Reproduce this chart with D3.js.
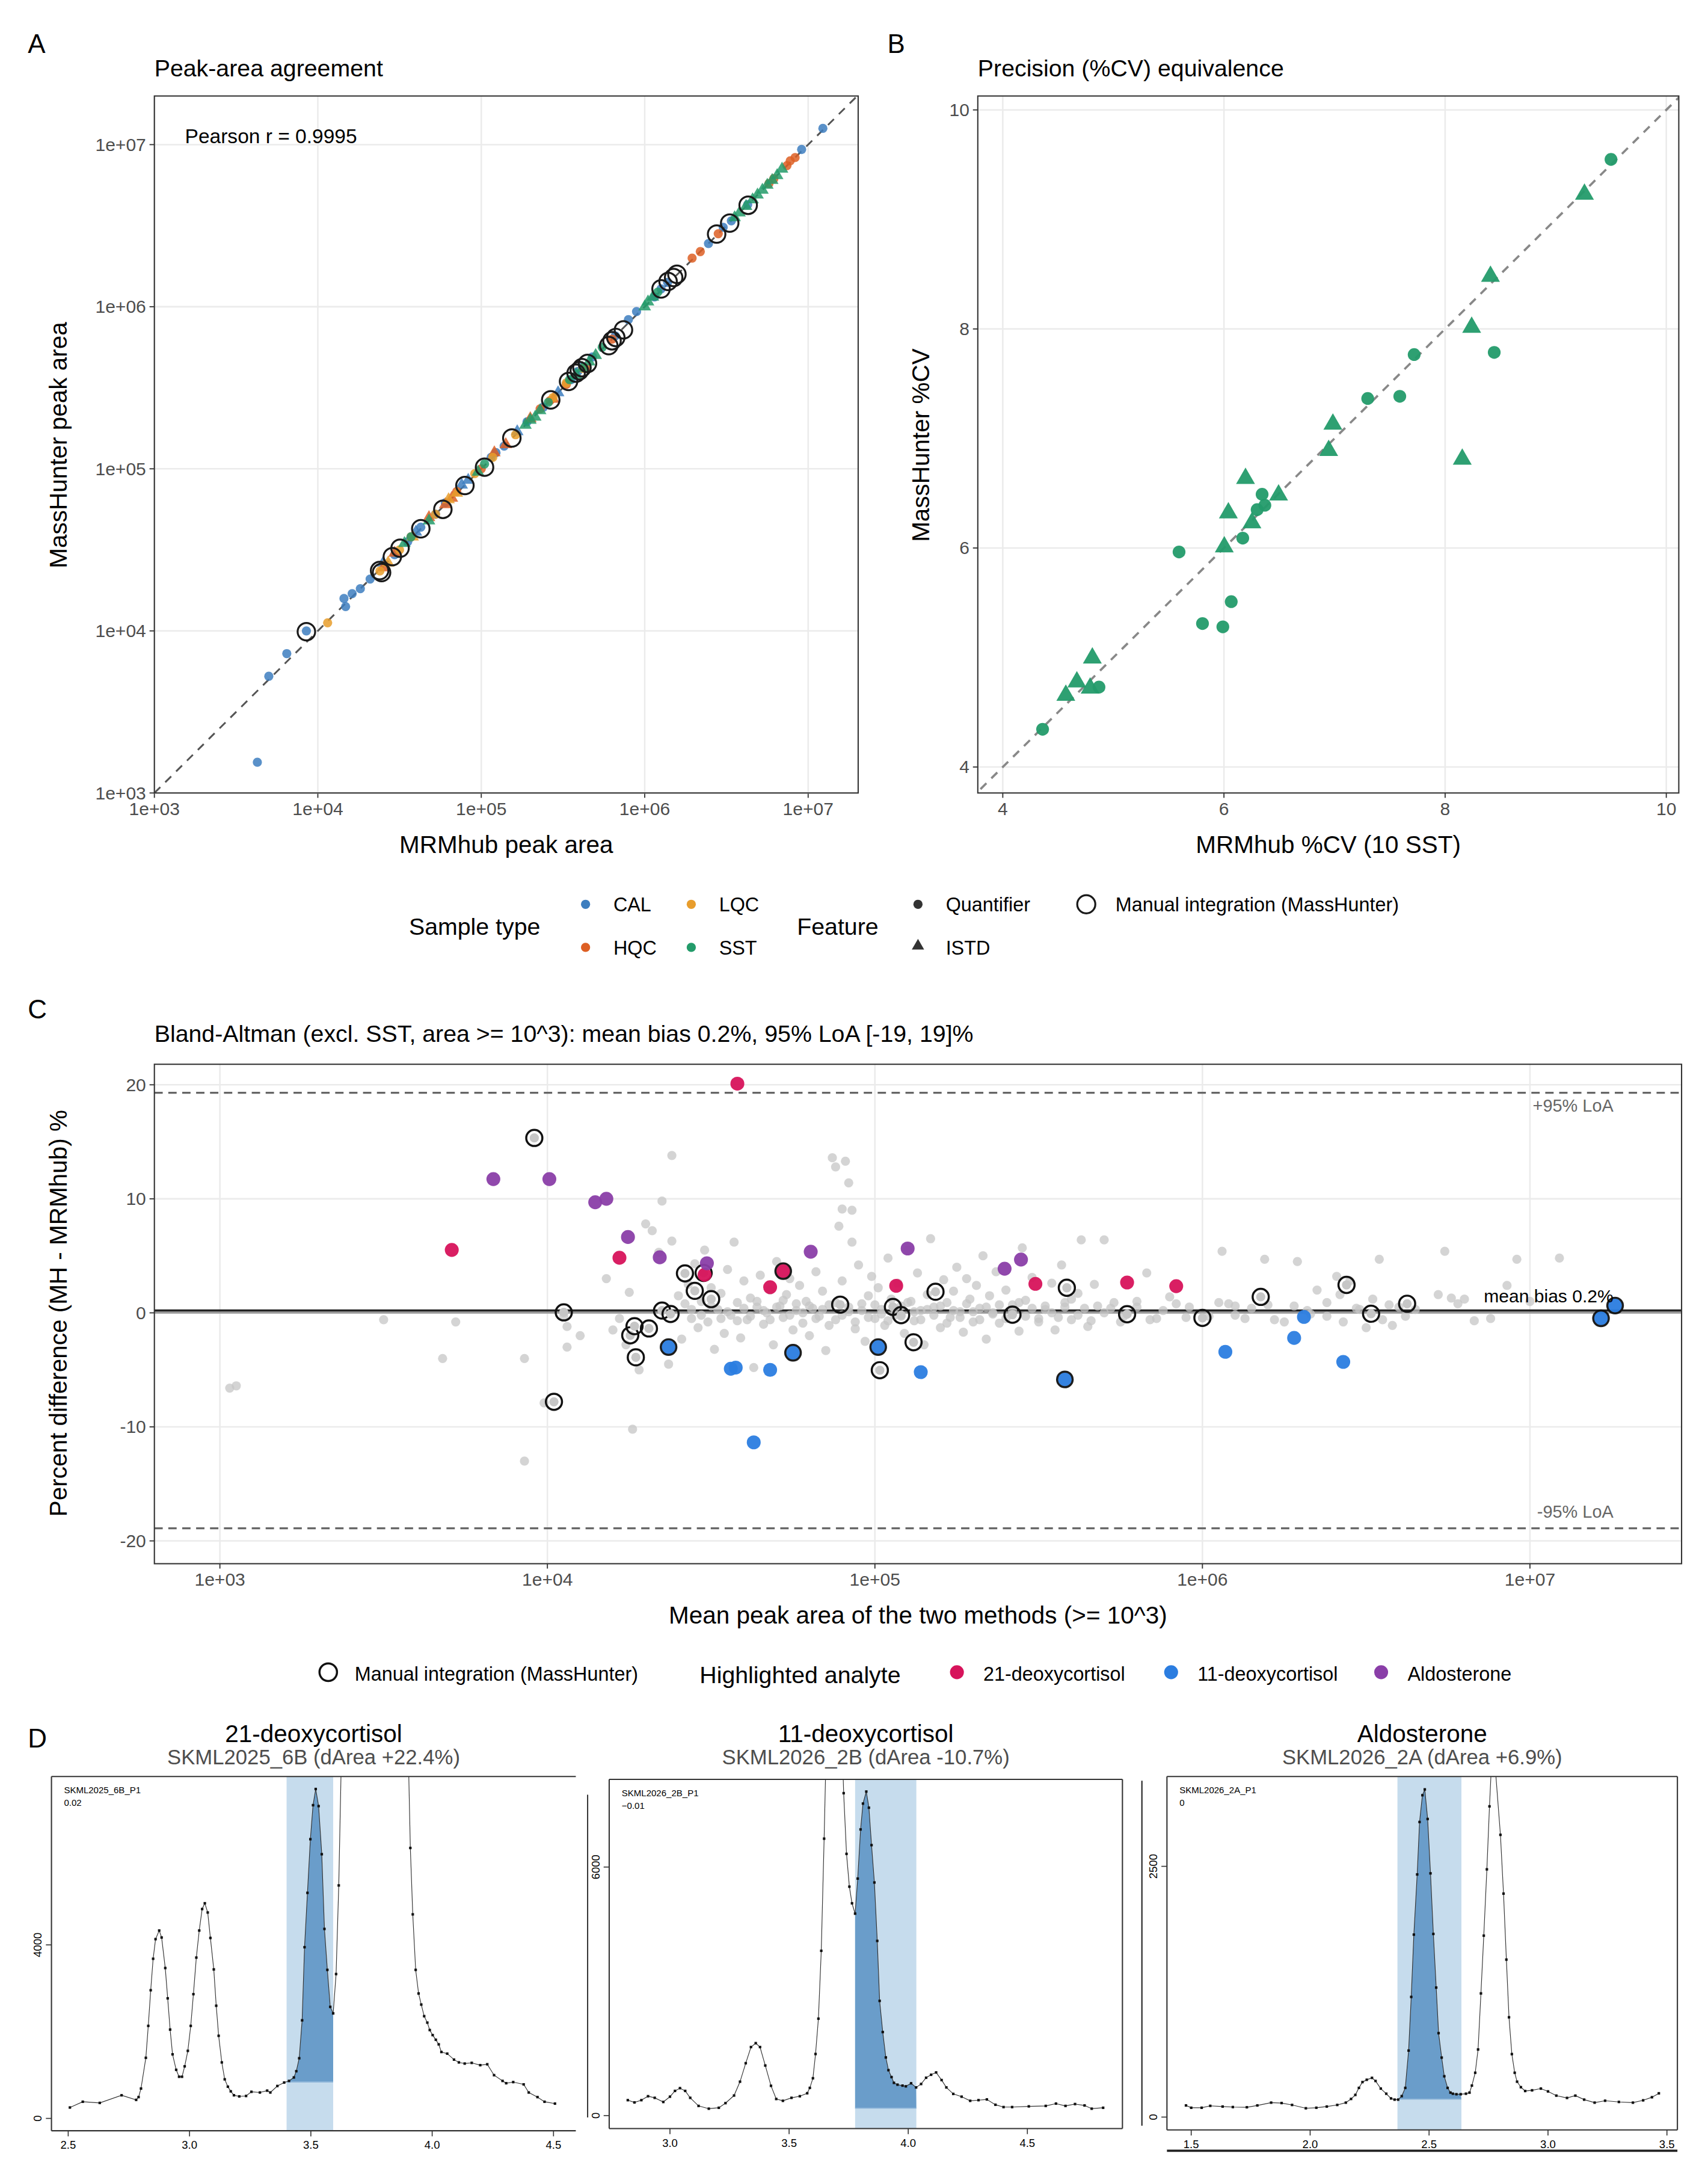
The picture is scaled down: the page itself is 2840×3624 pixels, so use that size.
<!DOCTYPE html>
<html>
<head>
<meta charset="utf-8">
<script src="https://cdn.jsdelivr.net/npm/d3@7"></script>
<style>
  body { margin: 0; background: #fff; }
  svg { font-family: "Liberation Sans", Arial, sans-serif; }
</style>
</head>
<body>
<div id="chart"></div>
<script>
// ---- data (log10 areas for A and C) ----
// [log10 MRMhub, log10 MassHunter, feature]
var calPts = [[3.63,3.19,"q"],[3.70,3.72,"q"],[3.81,3.86,"q"],[3.93,4.0,"q"],[4.16,4.2,"q"],[4.17,4.15,"q"],[4.21,4.23,"q"],[4.26,4.26,"q"],[4.32,4.32,"q"],[4.40,4.42,"i"],[4.47,4.47,"q"],[4.55,4.55,"q"],[4.63,4.64,"q"],[4.72,4.72,"q"],[4.78,4.79,"q"],[4.88,4.9,"i"],[4.92,4.93,"i"],[5.06,5.07,"q"],[5.09,5.1,"q"],[5.22,5.23,"i"],[5.28,5.29,"q"],[5.38,5.38,"q"],[5.55,5.55,"q"],[5.59,5.6,"q"],[5.68,5.69,"q"],[5.82,5.82,"q"],[5.90,5.92,"q"],[5.95,5.97,"q"],[6.10,6.11,"q"],[6.14,6.15,"q"],[6.39,6.39,"q"],[6.48,6.49,"q"],[6.53,6.53,"q"],[6.63,6.63,"q"],[6.96,6.97,"q"],[7.09,7.10,"q"],[4.60,4.61,"i"],[5.14,5.14,"q"],[5.47,5.47,"i"],[5.62,5.63,"q"],[6.06,6.06,"q"]];
var hqcPts = [[4.40,4.39,"i"],[4.47,4.48,"i"],[4.57,4.58,"q"],[4.68,4.7,"i"],[4.82,4.82,"i"],[4.85,4.86,"q"],[5.0,5.0,"q"],[5.08,5.1,"i"],[5.15,5.15,"i"],[5.30,5.31,"i"],[5.42,5.42,"q"],[5.44,5.43,"i"],[5.52,5.52,"q"],[5.64,5.62,"q"],[5.80,5.8,"q"],[6.29,6.30,"q"],[6.34,6.34,"q"],[6.45,6.45,"q"],[6.76,6.76,"q"],[6.79,6.79,"q"],[6.87,6.87,"q"],[6.89,6.9,"q"],[6.92,6.92,"q"],[4.78,4.78,"i"],[5.36,5.37,"q"]];
var lqcPts = [[4.06,4.05,"q"],[4.38,4.37,"q"],[4.43,4.42,"i"],[4.50,4.50,"q"],[4.58,4.58,"i"],[4.72,4.72,"q"],[4.85,4.85,"i"],[4.96,4.97,"q"],[5.07,5.07,"q"],[5.21,5.21,"q"],[5.44,5.44,"q"],[5.52,5.53,"q"],[5.62,5.62,"q"],[4.80,4.81,"i"]];
var sstPts = [[4.53,4.54,"i"],[4.57,4.58,"q"],[4.68,4.68,"i"],[4.98,4.98,"i"],[5.02,5.03,"q"],[5.27,5.27,"i"],[5.30,5.30,"i"],[5.33,5.32,"i"],[5.36,5.36,"i"],[5.41,5.41,"q"],[5.54,5.55,"q"],[5.58,5.58,"i"],[5.62,5.62,"i"],[5.66,5.66,"i"],[5.70,5.70,"i"],[5.74,5.75,"q"],[6.0,6.0,"i"],[6.02,6.03,"i"],[6.05,6.06,"i"],[6.08,6.09,"q"],[6.55,6.55,"i"],[6.58,6.58,"i"],[6.62,6.62,"i"],[6.66,6.66,"i"],[6.69,6.69,"i"],[6.72,6.72,"i"],[6.75,6.75,"i"],[6.78,6.78,"i"],[6.81,6.81,"i"],[6.84,6.85,"i"]];
var manualA = [[3.93,3.995],[4.378,4.372],[4.39,4.36],[4.456,4.458],[4.503,4.51],[4.63,4.63],[4.765,4.75],[4.9,4.897],[5.02,5.01],[5.187,5.19],[5.425,5.425],[5.534,5.539],[5.58,5.59],[5.60,5.605],[5.616,5.624],[5.65,5.65],[5.78,5.76],[5.80,5.79],[5.823,5.81],[5.87,5.857],[6.10,6.11],[6.143,6.156],[6.177,6.18],[6.197,6.2],[6.44,6.448],[6.52,6.516],[6.633,6.626]];
var typeColors = {CAL:"#3d7ebf", HQC:"#dd5f24", LQC:"#e89d2c", SST:"#239b6a"};
var pearsonLabel = "Pearson r = 0.9995";

// panel B: [MRMhub %CV, MassHunter %CV]
var cvQuant = [[9.50,9.548],[8.444,7.786],[7.72,7.766],[7.59,7.385],[7.30,7.365],[6.345,6.49],[6.37,6.39],[6.30,6.35],[6.17,6.09],[5.594,5.964],[6.066,5.51],[5.806,5.31],[5.99,5.28],[4.87,4.73],[4.36,4.345]];
var cvIstd = [[9.26,9.23],[8.41,8.48],[8.24,8.015],[8.155,6.81],[6.985,7.13],[6.947,6.89],[6.195,6.635],[6.494,6.483],[6.04,6.32],[6.253,6.23],[6.003,6.01],[4.81,4.995],[4.67,4.777],[4.79,4.72],[4.57,4.655]];

// panel C: [log10 mean area, percent difference]
var baGray = [[3.03,-6.6],[3.05,-6.4],[3.5,-0.6],[3.68,-4.0],[3.72,-0.8],[3.93,-4.0],[3.93,-13.0],[3.99,-7.9],[4.05,-0.3],[4.06,-3.0],[4.06,-1.2],[4.1,-2.0],[4.18,3.0],[4.2,-1.5],[4.22,-0.5],[4.24,-2.8],[4.25,1.8],[4.26,-10.2],[4.28,-5.0],[4.3,7.8],[4.32,7.2],[4.34,5.3],[4.35,9.8],[4.37,-4.5],[4.38,13.8],[4.38,6.3],[4.4,1.5],[4.41,-2.3],[4.42,0.8],[4.43,2.5],[4.44,-0.5],[4.45,4.3],[4.46,-1.3],[4.47,1.0],[4.48,5.5],[4.49,-0.8],[4.5,2.2],[4.51,-3.2],[4.52,0.3],[4.53,1.7],[4.54,-1.8],[4.55,3.8],[4.56,-0.2],[4.57,6.2],[4.58,0.9],[4.59,-2.2],[4.6,2.8],[4.61,-0.6],[4.62,1.3],[4.63,-4.8],[4.64,0.5],[4.65,3.3],[4.66,-1.0],[4.67,0.0],[4.68,2.0],[4.69,-2.8],[4.7,4.5],[4.71,0.6],[4.72,-0.4],[4.73,1.6],[4.74,3.0],[4.75,-1.5],[4.76,0.2],[4.77,2.4],[4.78,-0.9],[4.79,1.0],[4.8,-2.0],[4.81,0.4],[4.82,3.6],[4.83,-0.3],[4.84,1.9],[4.85,-3.3],[4.86,0.7],[4.87,13.6],[4.88,12.8],[4.88,-0.6],[4.89,7.6],[4.9,9.1],[4.9,2.8],[4.91,13.3],[4.92,11.4],[4.92,0.1],[4.93,6.2],[4.93,9.0],[4.94,-1.4],[4.95,4.2],[4.96,0.8],[4.97,-2.5],[4.98,1.5],[4.99,3.2],[5.0,-0.5],[5.01,2.2],[5.02,0.3],[5.03,-1.1],[5.04,4.8],[5.05,1.2],[5.06,-0.2],[5.07,2.6],[5.08,0.6],[5.09,-1.8],[5.1,5.5],[5.11,1.0],[5.12,-0.7],[5.13,3.5],[5.14,0.2],[5.15,-2.8],[5.16,1.6],[5.17,6.5],[5.18,0.5],[5.2,-1.3],[5.21,2.9],[5.22,0.9],[5.23,-0.4],[5.24,1.9],[5.25,4.0],[5.26,0.1],[5.27,-1.7],[5.28,3.0],[5.29,1.2],[5.3,-0.8],[5.31,2.4],[5.32,0.4],[5.33,5.0],[5.34,-2.3],[5.35,1.5],[5.36,0.0],[5.37,3.6],[5.38,-0.9],[5.4,2.0],[5.42,0.7],[5.44,-1.6],[5.45,5.7],[5.46,1.1],[5.48,3.1],[5.5,-0.5],[5.52,0.3],[5.54,2.6],[5.55,-1.5],[5.57,4.2],[5.58,0.9],[5.6,-0.6],[5.62,1.7],[5.63,6.4],[5.65,-1.2],[5.67,2.5],[5.7,6.4],[5.72,0.4],[5.75,-0.8],[5.8,1.0],[5.83,3.5],[5.86,-0.5],[5.9,1.4],[5.96,0.5],[6.02,-0.3],[6.06,5.4],[6.08,0.8],[6.1,0.6],[6.13,-0.5],[6.19,4.7],[6.2,0.7],[6.25,-0.8],[6.29,4.5],[6.32,0.2],[6.35,2.0],[6.38,-0.3],[6.41,3.2],[6.42,1.6],[6.45,2.8],[6.47,0.4],[6.5,-1.3],[6.54,4.7],[6.55,-0.6],[6.58,-1.1],[6.6,0.5],[6.65,0.3],[6.72,1.6],[6.74,5.4],[6.76,1.3],[6.78,0.8],[6.8,1.2],[6.83,-0.7],[6.88,-0.5],[6.93,2.4],[6.96,4.7],[7.0,1.0],[7.09,4.8]];
var baGrayCore = [[4.44,0.3],[4.47,-0.2],[4.5,0.6],[4.53,-0.5],[4.55,0.1],[4.58,-0.7],[4.6,0.4],[4.62,-0.3],[4.64,1.0],[4.66,0.2],[4.68,-0.6],[4.7,0.5],[4.72,1.1],[4.74,-0.2],[4.76,0.8],[4.78,0.0],[4.8,0.6],[4.82,-0.5],[4.84,0.3],[4.86,-1.1],[4.88,0.9],[4.9,-0.2],[4.92,0.5],[4.94,-0.8],[4.96,0.2],[4.98,-0.4],[5.0,0.7],[5.02,-0.1],[5.04,-0.7],[5.06,0.4],[5.08,-0.3],[5.1,0.9],[5.12,0.1],[5.14,-0.6],[5.16,0.3],[5.18,-0.2],[5.2,0.6],[5.22,-0.9],[5.24,0.2],[5.26,-0.4],[5.28,0.8],[5.3,0.1],[5.32,-0.6],[5.34,0.5],[5.36,-0.1],[5.38,0.7],[5.4,-0.5],[5.42,0.2],[5.44,0.9],[5.46,-0.3],[5.48,0.4],[5.5,-0.8],[5.52,0.6],[5.54,0.0],[5.56,-0.4],[5.58,0.5],[5.6,1.2],[5.62,-0.2],[5.64,0.4],[5.66,-0.7],[5.68,0.6],[5.7,0.0],[5.73,0.9],[5.76,-0.3],[5.8,0.5],[5.84,-0.6],[5.88,0.2],[5.92,0.8],[5.95,-0.4],[6.05,0.9],[6.1,-0.2],[6.15,0.4],[6.22,-0.6],[6.28,0.6],[6.33,-0.1],[6.38,0.9],[6.43,-0.8],[6.48,0.3],[6.52,1.2],[6.57,0.7],[6.62,-0.3]];
var baManual = [[3.96,15.34],[4.05,0.04],[4.02,-7.8],[4.253,-1.97],[4.266,-1.17],[4.31,-1.37],[4.27,-3.9],[4.35,0.2],[4.376,-0.1],[4.42,3.46],[4.45,1.93],[4.477,3.5],[4.5,1.2],[4.894,0.72],[5.055,0.52],[5.08,-0.2],[5.118,-2.58],[5.015,-5.03],[5.185,1.85],[5.42,-0.16],[5.586,2.2],[5.77,-0.12],[6.0,-0.44],[6.178,1.4],[6.44,2.45],[6.515,-0.08],[6.625,0.8]];
// [log10 mean area, percent difference, manual integration]
var ba21deoxy = [[4.58,20.1,0],[3.708,5.52,0],[4.22,4.83,0],[4.48,3.34,0],[4.68,2.25,0],[4.72,3.66,1],[5.065,2.37,0],[5.49,2.54,0],[5.77,2.66,0],[5.92,2.34,0]];
var ba11deoxy = [[4.37,-3.0,1],[4.56,-4.9,0],[4.575,-4.8,0],[4.68,-5.0,0],[4.63,-11.36,0],[4.75,-3.5,1],[5.01,-3.0,1],[5.14,-5.2,0],[5.58,-5.84,1],[6.07,-3.42,0],[6.28,-2.2,0],[6.31,-0.36,0],[6.43,-4.3,0],[7.217,-0.48,1],[7.26,0.64,1]];
var baAldo = [[3.835,11.73,0],[4.006,11.73,0],[4.146,9.7,0],[4.18,10.0,0],[4.246,6.65,0],[4.343,4.87,0],[4.487,4.35,0],[4.804,5.36,0],[5.10,5.64,0],[5.396,3.87,0],[5.446,4.67,0]];
var analytes = ["21-deoxycortisol","11-deoxycortisol","Aldosterone"];
var analyteColors = ["#d7135b","#2b7de0","#8a3ea8"];
var meanBias = 0.2, loaUpper = 19.3, loaLower = -18.9;

// panel D chromatograms: [retention time, intensity]
var chrom21 = [[2.507,251],[2.56,384],[2.63,357],[2.72,533],[2.78,427],[2.79,491],[2.80,688],[2.82,1397],[2.83,2133],[2.84,2955],[2.85,3680],[2.86,4133],[2.875,4331],[2.885,4171],[2.90,3467],[2.91,2768],[2.92,2048],[2.93,1477],[2.945,1120],[2.957,960],[2.969,960],[2.98,1200],[2.993,1557],[3.005,2133],[3.016,2864],[3.028,3707],[3.04,4331],[3.052,4827],[3.063,4960],[3.075,4747],[3.086,4160],[3.10,3435],[3.11,2597],[3.12,1904],[3.133,1291],[3.145,901],[3.158,731],[3.17,624],[3.183,533],[3.205,507],[3.233,517],[3.255,613],[3.29,597],[3.32,640],[3.333,597],[3.362,747],[3.39,827],[3.41,864],[3.43,944],[3.44,1088],[3.452,1387],[3.464,2261],[3.474,3947],[3.486,5200],[3.498,6437],[3.509,7221],[3.52,7594],[3.532,7200],[3.545,6091],[3.556,4368],[3.568,3424],[3.58,2571],[3.592,2421],[3.604,3328],[3.615,5371],[3.63,9500],[3.70,20000],[3.80,25000],[3.88,14000],[3.91,6235],[3.92,4704],[3.932,3424],[3.944,2880],[3.955,2624],[3.967,2357],[3.98,2208],[3.99,2037],[4.002,1920],[4.015,1813],[4.027,1707],[4.038,1531],[4.062,1493],[4.09,1355],[4.11,1291],[4.134,1264],[4.163,1280],[4.198,1227],[4.227,1248],[4.255,997],[4.29,864],[4.305,811],[4.334,837],[4.377,784],[4.398,597],[4.434,491],[4.463,384],[4.506,341]];
var chrom11 = [[2.823,373],[2.851,318],[2.88,373],[2.908,468],[2.936,429],[2.972,329],[3.0,457],[3.021,596],[3.042,663],[3.064,596],[3.085,429],[3.12,234],[3.163,167],[3.205,189],[3.233,301],[3.269,485],[3.294,819],[3.318,1265],[3.34,1655],[3.36,1749],[3.378,1655],[3.40,1209],[3.424,719],[3.446,401],[3.474,357],[3.51,429],[3.545,468],[3.576,540],[3.587,669],[3.60,902],[3.611,1487],[3.623,2340],[3.635,3978],[3.647,6685],[3.66,10000],[3.69,12000],[3.72,9500],[3.729,7783],[3.741,6318],[3.753,5526],[3.764,5125],[3.777,4875],[3.788,5721],[3.80,6908],[3.81,7532],[3.824,7822],[3.835,7432],[3.846,6529],[3.858,5627],[3.87,4217],[3.88,2769],[3.893,2017],[3.906,1404],[3.917,1097],[3.93,930],[3.94,791],[3.955,747],[3.976,724],[3.99,707],[4.012,780],[4.033,680],[4.054,763],[4.075,914],[4.096,986],[4.117,1042],[4.14,858],[4.16,680],[4.189,524],[4.224,457],[4.26,357],[4.295,373],[4.33,390],[4.366,262],[4.40,206],[4.436,206],[4.506,223],[4.577,234],[4.62,290],[4.66,234],[4.70,279],[4.74,245],[4.77,167],[4.818,189]];
var chromAldo = [[1.478,116],[1.5,93],[1.544,93],[1.58,112],[1.632,105],[1.675,100],[1.734,98],[1.778,116],[1.836,144],[1.88,140],[1.924,121],[1.982,88],[2.026,93],[2.07,105],[2.114,121],[2.15,144],[2.172,181],[2.19,221],[2.205,291],[2.22,349],[2.238,372],[2.26,391],[2.275,360],[2.297,284],[2.32,233],[2.34,186],[2.355,174],[2.37,174],[2.385,209],[2.40,291],[2.414,663],[2.425,1198],[2.436,1819],[2.45,2419],[2.46,2942],[2.472,3209],[2.482,3267],[2.494,2972],[2.506,2430],[2.518,1826],[2.53,1291],[2.54,837],[2.553,593],[2.564,407],[2.578,291],[2.59,244],[2.60,233],[2.615,228],[2.633,228],[2.655,233],[2.67,244],[2.68,314],[2.694,442],[2.706,674],[2.718,1233],[2.73,1809],[2.743,2470],[2.754,3098],[2.768,3800],[2.80,2814],[2.813,2228],[2.825,1570],[2.836,995],[2.848,628],[2.86,442],[2.87,353],[2.886,298],[2.904,260],[2.933,267],[2.97,284],[3.0,256],[3.035,214],[3.08,191],[3.115,214],[3.152,174],[3.196,144],[3.24,163],[3.298,151],[3.357,144],[3.40,167],[3.437,198],[3.466,237]];

// ---- drawing ----
var W = 2840, H = 3624, S = W / 1228;
var svg = d3.select("#chart").append("svg").attr("width", W).attr("height", H);
svg.append("rect").attr("width", W).attr("height", H).attr("fill", "#fff");
var root = svg.append("g").attr("transform", "scale(" + S + ")");
var defs = svg.append("defs");
var TXT = "#000", TICK = "#4d4d4d", GRID = "#ebebeb";
var fmtE = function(v) { return "1e+0" + v; };

function text(g, x, y, s, size, opt) {
  opt = opt || {};
  return g.append("text").attr("x", x).attr("y", y).text(s)
    .attr("font-size", size).attr("fill", opt.fill || TXT)
    .attr("text-anchor", opt.anchor || "start")
    .attr("transform", opt.rot ? "rotate(" + opt.rot + "," + x + "," + y + ")" : null);
}
function clip(id, x0, y0, x1, y1) {
  defs.append("clipPath").attr("id", id).append("rect")
    .attr("x", x0).attr("y", y0).attr("width", x1 - x0).attr("height", y1 - y0);
}
// ggplot style frame with grid, ticks and labels
function ggFrame(g, x, y, xt, yt, xl, yl, box) {
  xt.forEach(function(v) {
    g.append("line").attr("x1", x(v)).attr("x2", x(v)).attr("y1", box[1]).attr("y2", box[3]).attr("stroke", GRID).attr("stroke-width", 1.1);
    g.append("line").attr("x1", x(v)).attr("x2", x(v)).attr("y1", box[3]).attr("y2", box[3] + 3.5).attr("stroke", "#333").attr("stroke-width", 0.8);
    text(g, x(v), box[3] + 16, xl(v), 13, {fill: TICK, anchor: "middle"});
  });
  yt.forEach(function(v) {
    g.append("line").attr("y1", y(v)).attr("y2", y(v)).attr("x1", box[0]).attr("x2", box[2]).attr("stroke", GRID).attr("stroke-width", 1.1);
    g.append("line").attr("y1", y(v)).attr("y2", y(v)).attr("x1", box[0] - 3.5).attr("x2", box[0]).attr("stroke", "#333").attr("stroke-width", 0.8);
    text(g, box[0] - 6, y(v) + 4.5, yl(v), 13, {fill: TICK, anchor: "end"});
  });
}
function border(g, box) {
  g.append("rect").attr("x", box[0]).attr("y", box[1]).attr("width", box[2] - box[0]).attr("height", box[3] - box[1])
    .attr("fill", "none").attr("stroke", "#333").attr("stroke-width", 0.9);
}
var tri = d3.symbol().type(d3.symbolTriangle);

// ---------- Panel A ----------
(function() {
  var g = root.append("g");
  var box = [111, 69, 617, 570];
  var x = d3.scaleLinear().domain([3, 7.306]).range([box[0], box[2]]);
  var y = d3.scaleLinear().domain([3, 7.3]).range([box[3], box[1]]);
  ggFrame(g, x, y, [3,4,5,6,7], [3,4,5,6,7], fmtE, fmtE, box);
  clip("clipA", box[0], box[1], box[2], box[3]);
  var p = g.append("g").attr("clip-path", "url(#clipA)");
  p.append("line").attr("x1", x(3)).attr("y1", y(3)).attr("x2", x(7.4)).attr("y2", y(7.4))
    .attr("stroke", "#555").attr("stroke-width", 1.3).attr("stroke-dasharray", "6,5");
  [["CAL", calPts], ["HQC", hqcPts], ["LQC", lqcPts], ["SST", sstPts]].forEach(function(s) {
    s[1].forEach(function(d) {
      if (d[2] === "i") {
        p.append("path").attr("d", tri.size(36)()).attr("transform", "translate(" + x(d[0]) + "," + y(d[1]) + ")")
          .attr("fill", typeColors[s[0]]).attr("opacity", 0.85);
      } else {
        p.append("circle").attr("cx", x(d[0])).attr("cy", y(d[1])).attr("r", 3.3)
          .attr("fill", typeColors[s[0]]).attr("opacity", 0.85);
      }
    });
  });
  manualA.forEach(function(d) {
    p.append("circle").attr("cx", x(d[0])).attr("cy", y(d[1])).attr("r", 6.3)
      .attr("fill", "none").attr("stroke", "#1a1a1a").attr("stroke-width", 1.4);
  });
  border(g, box);
  text(g, 133, 103, pearsonLabel, 14.5);
  text(g, 111, 55, "Peak-area agreement", 17);
  text(g, 20, 38, "A", 19);
  text(g, 364, 613, "MRMhub peak area", 17.5, {anchor: "middle"});
  text(g, 48, 320, "MassHunter peak area", 17.5, {anchor: "middle", rot: -90});
})();

// ---------- Panel B ----------
(function() {
  var g = root.append("g");
  var box = [703, 69, 1207, 570];
  var x = d3.scaleLinear().domain([3.774, 10.113]).range([box[0], box[2]]);
  var y = d3.scaleLinear().domain([3.763, 10.127]).range([box[3], box[1]]);
  ggFrame(g, x, y, [4,6,8,10], [4,6,8,10], String, String, box);
  clip("clipB", box[0], box[1], box[2], box[3]);
  var p = g.append("g").attr("clip-path", "url(#clipB)");
  p.append("line").attr("x1", x(3.7)).attr("y1", y(3.7)).attr("x2", x(10.2)).attr("y2", y(10.2))
    .attr("stroke", "#888").attr("stroke-width", 1.6).attr("stroke-dasharray", "6,5");
  cvQuant.forEach(function(d) {
    p.append("circle").attr("cx", x(d[0])).attr("cy", y(d[1])).attr("r", 4.6).attr("fill", typeColors.SST).attr("opacity", 0.95);
  });
  cvIstd.forEach(function(d) {
    p.append("path").attr("d", tri.size(80)()).attr("transform", "translate(" + x(d[0]) + "," + y(d[1]) + ")")
      .attr("fill", typeColors.SST).attr("opacity", 0.95);
  });
  border(g, box);
  text(g, 703, 55, "Precision (%CV) equivalence", 17);
  text(g, 638, 38, "B", 19);
  text(g, 955, 613, "MRMhub %CV (10 SST)", 17.5, {anchor: "middle"});
  text(g, 668, 320, "MassHunter %CV", 17.5, {anchor: "middle", rot: -90});
})();

// ---------- Legend A/B ----------
(function() {
  var g = root.append("g");
  text(g, 294, 672, "Sample type", 17);
  var pos = [[421,650],[421,681],[497,650],[497,681]];
  var order = ["CAL","HQC","LQC","SST"];
  order.forEach(function(t, i) {
    g.append("circle").attr("cx", pos[i][0]).attr("cy", pos[i][1]).attr("r", 3.3).attr("fill", typeColors[t]);
    text(g, pos[i][0] + 20, pos[i][1] + 5, t, 14);
  });
  text(g, 573, 672, "Feature", 17);
  g.append("circle").attr("cx", 660).attr("cy", 650).attr("r", 3.3).attr("fill", "#333");
  text(g, 680, 655, "Quantifier", 14);
  g.append("path").attr("d", tri.size(34)()).attr("transform", "translate(660,680)").attr("fill", "#333");
  text(g, 680, 686, "ISTD", 14);
  g.append("circle").attr("cx", 781).attr("cy", 650).attr("r", 6.5).attr("fill", "none").attr("stroke", "#1a1a1a").attr("stroke-width", 1.4);
  text(g, 802, 655, "Manual integration (MassHunter)", 14);
})();

// ---------- Panel C ----------
(function() {
  var g = root.append("g");
  var box = [111, 765, 1209, 1124];
  var x = d3.scaleLinear().domain([2.8, 7.463]).range([box[0], box[2]]);
  var y = d3.scaleLinear().domain([-22.0, 21.8]).range([box[3], box[1]]);
  ggFrame(g, x, y, [3,4,5,6,7], [-20,-10,0,10,20], fmtE, String, box);
  clip("clipC", box[0], box[1], box[2], box[3]);
  var p = g.append("g").attr("clip-path", "url(#clipC)");
  [loaUpper, loaLower].forEach(function(v) {
    p.append("line").attr("x1", box[0]).attr("x2", box[2]).attr("y1", y(v)).attr("y2", y(v))
      .attr("stroke", "#666").attr("stroke-width", 1.4).attr("stroke-dasharray", "6,4");
  });
  p.append("line").attr("x1", box[0]).attr("x2", box[2]).attr("y1", y(0)).attr("y2", y(0))
    .attr("stroke", "#999").attr("stroke-width", 1.2);
  p.append("line").attr("x1", box[0]).attr("x2", box[2]).attr("y1", y(meanBias)).attr("y2", y(meanBias))
    .attr("stroke", "#222").attr("stroke-width", 1.6);
  baGray.concat(baGrayCore).forEach(function(d) {
    p.append("circle").attr("cx", x(d[0])).attr("cy", y(d[1])).attr("r", 3.3).attr("fill", "#c6c6c6").attr("opacity", 0.75);
  });
  baManual.forEach(function(d) {
    p.append("circle").attr("cx", x(d[0])).attr("cy", y(d[1])).attr("r", 3.3).attr("fill", "#c6c6c6");
    p.append("circle").attr("cx", x(d[0])).attr("cy", y(d[1])).attr("r", 5.8)
      .attr("fill", "none").attr("stroke", "#111").attr("stroke-width", 1.5);
  });
  [ba21deoxy, ba11deoxy, baAldo].forEach(function(arr, k) {
    arr.forEach(function(d) {
      p.append("circle").attr("cx", x(d[0])).attr("cy", y(d[1])).attr("r", d[2] ? 5.6 : 5)
        .attr("fill", analyteColors[k]).attr("opacity", 0.95)
        .attr("stroke", d[2] ? "#111" : "none").attr("stroke-width", 1.5);
    });
  });
  border(g, box);
  text(g, 1160, 799, "+95% LoA", 12.5, {fill: "#666", anchor: "end"});
  text(g, 1160, 1091, "-95% LoA", 12.5, {fill: "#666", anchor: "end"});
  text(g, 1160, 936, "mean bias 0.2%", 13, {anchor: "end"});
  text(g, 111, 749, "Bland-Altman (excl. SST, area >= 10^3): mean bias 0.2%, 95% LoA [-19, 19]%", 17);
  text(g, 20, 732, "C", 19);
  text(g, 660, 1167, "Mean peak area of the two methods (>= 10^3)", 17.5, {anchor: "middle"});
  text(g, 48, 944, "Percent difference (MH - MRMhub) %", 17.5, {anchor: "middle", rot: -90});
  // legend
  g.append("circle").attr("cx", 236).attr("cy", 1202).attr("r", 6.3).attr("fill", "none").attr("stroke", "#111").attr("stroke-width", 1.5);
  text(g, 255, 1208, "Manual integration (MassHunter)", 14);
  text(g, 503, 1210, "Highlighted analyte", 17);
  var lx = [688, 842, 993];
  analytes.forEach(function(a, k) {
    g.append("circle").attr("cx", lx[k]).attr("cy", 1202).attr("r", 5).attr("fill", analyteColors[k]);
    text(g, lx[k] + 19, 1208, a, 14);
  });
})();

// ---------- Panel D ----------
function chromPanel(cfg) {
  var g = root.append("g");
  var b = cfg.box;
  var x = d3.scaleLinear().domain(cfg.xd).range([b[0], b[2]]);
  var y = d3.scaleLinear().domain(cfg.yd).range([b[3], b[1]]);
  clip(cfg.id, b[0], b[1], b[2], b[3]);
  var p = g.append("g").attr("clip-path", "url(#" + cfg.id + ")");
  p.append("rect").attr("x", x(cfg.win[0])).attr("y", b[1]).attr("width", x(cfg.win[1]) - x(cfg.win[0]))
    .attr("height", b[3] - b[1]).attr("fill", "#c6dced");
  var inWin = cfg.data.filter(function(d) { return d[0] >= cfg.win[0] && d[0] <= cfg.win[1]; });
  var area = d3.area().x(function(d) { return x(d[0]); }).y0(y(cfg.base)).y1(function(d) { return y(d[1]); });
  var pts = [[cfg.win[0], cfg.base]].concat(inWin).concat([[cfg.win[1], cfg.base]]);
  p.append("path").attr("d", area(pts)).attr("fill", "#6a9dca");
  p.append("line").attr("x1", x(cfg.win[0])).attr("x2", x(cfg.win[1])).attr("y1", y(cfg.base)).attr("y2", y(cfg.base))
    .attr("stroke", "#8fb6d9").attr("stroke-width", 0.8);
  var line = d3.line().x(function(d) { return x(d[0]); }).y(function(d) { return y(d[1]); });
  p.append("path").attr("d", line(cfg.data)).attr("fill", "none").attr("stroke", "#333").attr("stroke-width", 0.5);
  cfg.data.forEach(function(d) {
    p.append("rect").attr("x", x(d[0]) - 0.9).attr("y", y(d[1]) - 0.9).attr("width", 1.8).attr("height", 1.8).attr("fill", "#111");
  });
  var sides = cfg.sides || "tlbr";
  var fr = {t:[b[0],b[1],b[2],b[1]], b:[b[0],b[3],b[2],b[3]], l:[b[0],b[1],b[0],b[3]], r:[b[2],b[1],b[2],b[3]]};
  sides.split("").forEach(function(s) {
    var c = fr[s];
    g.append("line").attr("x1", c[0]).attr("y1", c[1]).attr("x2", c[2]).attr("y2", c[3]).attr("stroke", "#333").attr("stroke-width", 0.9);
  });
  cfg.xt.forEach(function(v) {
    g.append("line").attr("x1", x(v)).attr("x2", x(v)).attr("y1", b[3]).attr("y2", b[3] + 4).attr("stroke", "#333").attr("stroke-width", 0.7);
    text(g, x(v), b[3] + 13, v.toFixed(1), 8, {anchor: "middle"});
  });
  cfg.yt.forEach(function(v) {
    g.append("line").attr("x1", b[0] - 4).attr("x2", b[0]).attr("y1", y(v)).attr("y2", y(v)).attr("stroke", "#333").attr("stroke-width", 0.7);
    text(g, b[0] - 7, y(v), String(v), 8, {anchor: "middle", rot: -90});
  });
  text(g, b[0] + 9, b[1] + 12, cfg.tag, 6.5);
  text(g, b[0] + 9, b[1] + 21, cfg.val, 6.5);
  var cx = (b[0] + b[2]) / 2;
  text(g, cx, 1252, cfg.title, 17.5, {anchor: "middle"});
  text(g, cx, 1268, cfg.sub, 15, {anchor: "middle", fill: "#4d4d4d"});
  (cfg.extra || []).forEach(function(c) {
    g.append("line").attr("x1", c[0]).attr("y1", c[1]).attr("x2", c[2]).attr("y2", c[3]).attr("stroke", "#222").attr("stroke-width", c[4]);
  });
}
text(root, 20, 1256, "D", 19);
chromPanel({id: "clipD1", box: [37, 1277, 414, 1531.6], xd: [2.431, 4.592], yd: [-285, 7881], data: chrom21,
  win: [3.40, 3.592], base: 840, xt: [2.5, 3.0, 3.5, 4.0, 4.5], yt: [0, 4000], tag: "SKML2025_6B_P1", val: "0.02",
  title: "21-deoxycortisol", sub: "SKML2025_6B  (dArea +22.4%)", sides: "tlb", extra: [[422.5, 1290, 422.5, 1522, 0.8]]});
chromPanel({id: "clipD2", box: [438, 1279, 807, 1530], xd: [2.745, 4.899], yd: [-312, 8117], data: chrom11,
  win: [3.777, 4.034], base: 178, xt: [3.0, 3.5, 4.0, 4.5], yt: [0, 6000], tag: "SKML2026_2B_P1", val: "\u22120.01",
  title: "11-deoxycortisol", sub: "SKML2026_2B  (dArea -10.7%)"});
chromPanel({id: "clipD3", box: [839, 1277, 1206, 1531], xd: [1.398, 3.544], yd: [-128, 3395], data: chromAldo,
  win: [2.367, 2.636], base: 179, xt: [1.5, 2.0, 2.5, 3.0, 3.5], yt: [0, 2500], tag: "SKML2026_2A_P1", val: "0",
  title: "Aldosterone", sub: "SKML2026_2A  (dArea +6.9%)", extra: [[821, 1280, 821, 1528, 0.9], [839, 1546, 1206, 1546, 1.6]]});
</script>
</body>
</html>
